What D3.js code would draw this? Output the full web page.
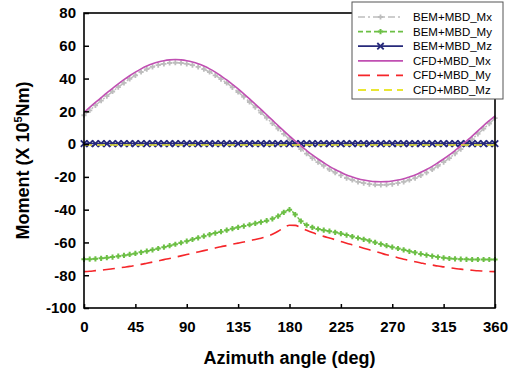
<!DOCTYPE html>
<html>
<head>
<meta charset="utf-8">
<script src="https://cdn.jsdelivr.net/npm/d3@7"></script>
<style>
body { margin: 0; background: #fff; }
svg { display: block; font-family: "Liberation Sans", Arial, sans-serif; }
</style>
</head>
<body>
<div id="chart"></div>
<script>
// azimuth angle (deg)
var angles = [0,5,10,15,20,25,30,35,40,45,50,55,60,65,70,75,80,85,90,95,
  100,105,110,115,120,125,130,135,140,145,150,155,160,165,170,175,180,185,190,195,
  200,205,210,215,220,225,230,235,240,245,250,255,260,265,270,275,280,285,290,295,
  300,305,310,315,320,325,330,335,340,345,350,355,360];

// moments, X 10^5 Nm
var bemMx = [17.6,20.6,23.6,26.5,29.3,32.1,34.8,37.4,39.8,42.0,
  44.0,45.7,47.1,48.2,49.0,49.5,49.7,49.5,49.0,48.2,
  47.1,45.7,44.0,42.0,39.7,37.3,34.6,31.8,28.8,25.7,
  22.5,19.3,16.0,12.7,9.4,6.2,3.0,0.0,-3.0,-5.8,
  -8.5,-11.0,-13.3,-15.5,-17.4,-19.1,-20.7,-21.9,-23.0,-23.8,
  -24.4,-24.8,-24.9,-24.8,-24.4,-23.8,-23.0,-21.9,-20.7,-19.1,
  -17.4,-15.5,-13.3,-11.0,-8.5,-5.8,-3.0,0.0,3.0,6.2,
  9.4,12.5,15.8];
var bemMy = [-70.3,-70.2,-70.0,-69.7,-69.3,-68.9,-68.4,-67.9,-67.3,-66.7,
  -66.0,-65.3,-64.5,-63.7,-62.9,-62.0,-61.1,-60.2,-59.2,-58.2,
  -57.2,-56.2,-55.2,-54.3,-53.4,-52.5,-51.6,-50.8,-50.0,-49.2,
  -48.4,-47.6,-46.7,-45.6,-44.0,-41.6,-40.0,-43.0,-47.0,-49.4,
  -50.8,-51.8,-52.5,-53.1,-53.8,-54.6,-55.5,-56.4,-57.3,-58.1,
  -59.0,-60.0,-61.0,-62.0,-62.9,-63.7,-64.5,-65.4,-66.2,-67.0,
  -67.7,-68.3,-68.9,-69.4,-69.8,-70.0,-70.2,-70.3,-70.4,-70.4,
  -70.4,-70.4,-70.4];
var bemMz = [0.3,0.3,0.3,0.3,0.3,0.3,0.3,0.3,0.3,0.3,
  0.3,0.3,0.3,0.3,0.3,0.3,0.3,0.3,0.3,0.3,
  0.3,0.3,0.3,0.3,0.3,0.3,0.3,0.3,0.3,0.3,
  0.3,0.3,0.3,0.3,0.3,0.3,0.3,0.3,0.3,0.3,
  0.3,0.3,0.3,0.3,0.3,0.3,0.3,0.3,0.3,0.3,
  0.3,0.3,0.3,0.3,0.3,0.3,0.3,0.3,0.3,0.3,
  0.3,0.3,0.3,0.3,0.3,0.3,0.3,0.3,0.3,0.3,
  0.3,0.3,0.3];
var cfdMx = [19.3,22.4,25.4,28.3,31.2,34.0,36.7,39.3,41.7,43.9,
  45.9,47.6,49.0,50.1,50.9,51.4,51.6,51.4,50.9,50.1,
  49.0,47.6,45.9,43.9,41.6,39.2,36.5,33.7,30.7,27.6,
  24.4,21.2,17.9,14.6,11.3,8.1,4.9,1.9,-1.1,-3.9,
  -6.6,-9.1,-11.4,-13.6,-15.5,-17.2,-18.8,-20.0,-21.1,-21.9,
  -22.5,-22.9,-23.0,-22.9,-22.5,-21.9,-21.1,-20.0,-18.8,-17.2,
  -15.5,-13.6,-11.4,-9.1,-6.6,-3.9,-1.1,1.9,4.9,8.1,
  11.3,14.3,17.2];
var cfdMy = [-77.8,-77.6,-77.2,-76.9,-76.5,-76.1,-75.6,-75.1,-74.6,-74.0,
  -73.4,-72.7,-72.0,-71.3,-70.5,-69.8,-69.0,-68.2,-67.4,-66.6,
  -65.8,-65.0,-64.2,-63.4,-62.6,-61.9,-61.1,-60.4,-59.7,-58.9,
  -58.2,-57.4,-56.4,-55.0,-53.2,-50.9,-49.5,-49.6,-51.0,-52.6,
  -54.0,-55.2,-56.3,-57.3,-58.3,-59.4,-60.5,-61.5,-62.5,-63.5,
  -64.5,-65.5,-66.5,-67.5,-68.4,-69.3,-70.2,-71.0,-71.8,-72.5,
  -73.2,-73.8,-74.4,-74.9,-75.4,-75.9,-76.3,-76.7,-77.0,-77.3,
  -77.5,-77.7,-77.8];
var cfdMz = [-0.5,-0.5,-0.5,-0.5,-0.5,-0.5,-0.5,-0.5,-0.5,-0.5,
  -0.5,-0.5,-0.5,-0.5,-0.5,-0.5,-0.5,-0.5,-0.5,-0.5,
  -0.5,-0.5,-0.5,-0.5,-0.5,-0.5,-0.5,-0.5,-0.5,-0.5,
  -0.5,-0.5,-0.5,-0.5,-0.5,-0.5,-0.5,-0.5,-0.5,-0.5,
  -0.5,-0.5,-0.5,-0.5,-0.5,-0.5,-0.5,-0.5,-0.5,-0.5,
  -0.5,-0.5,-0.5,-0.5,-0.5,-0.5,-0.5,-0.5,-0.5,-0.5,
  -0.5,-0.5,-0.5,-0.5,-0.5,-0.5,-0.5,-0.5,-0.5,-0.5,
  -0.5,-0.5,-0.5];

var seriesNames = ["BEM+MBD_Mx","BEM+MBD_My","BEM+MBD_Mz","CFD+MBD_Mx","CFD+MBD_My","CFD+MBD_Mz"];
var xTicks = [0,45,90,135,180,225,270,315,360];
var yTicks = [-100,-80,-60,-40,-20,0,20,40,60,80];

function main() {

var margin = {top: 13, right: 21, bottom: 64, left: 84},
    width = 516 - margin.left - margin.right,
    height = 372 - margin.top - margin.bottom;

var svg = d3.select("#chart")
  .append("svg")
    .attr("width", width + margin.left + margin.right)
    .attr("height", height + margin.top + margin.bottom)
  .append("g")
    .attr("transform", "translate(" + margin.left + "," + margin.top + ")");

var x = d3.scaleLinear().domain([0, 360]).range([0, width]);
var y = d3.scaleLinear().domain([-100, 80]).range([height, 0]);

// marker shapes
var plus = function(s) { return "M" + (-s) + ",0H" + s + "M0," + (-s) + "V" + s; };
var cross = function(s) { return "M" + (-s) + "," + (-s) + "L" + s + "," + s + "M" + (-s) + "," + s + "L" + s + "," + (-s); };

var series = [
  {name: seriesNames[0], values: bemMx, color: "#bdbdbd", width: 1.5, dash: "7,3,2,3", marker: plus(2.6), mw: 1.8},
  {name: seriesNames[1], values: bemMy, color: "#6cbf45", width: 1.5, dash: "5,3", marker: plus(2.6), mw: 2},
  {name: seriesNames[2], values: bemMz, color: "#26297a", width: 1.5, dash: null, marker: cross(3.2), mw: 1.8},
  {name: seriesNames[3], values: cfdMx, color: "#c04fb2", width: 1.6, dash: null, marker: null},
  {name: seriesNames[4], values: cfdMy, color: "#f5262a", width: 1.6, dash: "12,7", marker: null},
  {name: seriesNames[5], values: cfdMz, color: "#e9e632", width: 1.6, dash: "8,5", marker: null}
];

var line = d3.line()
  .x(function(d) { return x(d[0]); })
  .y(function(d) { return y(d[1]); })
  .curve(d3.curveMonotoneX);

series.forEach(function(s) {
  var pts = angles.map(function(a, i) { return [a, s.values[i]]; });
  svg.append("path")
    .datum(pts)
    .attr("fill", "none")
    .attr("stroke", s.color)
    .attr("stroke-width", s.width)
    .attr("stroke-dasharray", s.dash)
    .attr("d", line);
  if (s.marker) {
    svg.selectAll()
      .data(pts)
      .enter()
      .append("path")
        .attr("transform", function(d) { return "translate(" + x(d[0]) + "," + y(d[1]) + ")"; })
        .attr("d", s.marker)
        .attr("stroke", s.color)
        .attr("stroke-width", s.mw)
        .attr("fill", "none");
  }
});

// axes (plain hyphen for negatives, like the original)
var fmt = function(d) { return String(d); };
var xAxis = svg.append("g")
  .attr("transform", "translate(0," + height + ")")
  .call(d3.axisBottom(x).tickValues(xTicks).tickFormat(fmt).tickSizeInner(-4).tickSizeOuter(0).tickPadding(13));
var yAxis = svg.append("g")
  .call(d3.axisLeft(y).tickValues(yTicks).tickFormat(fmt).tickSizeInner(-5).tickSizeOuter(0).tickPadding(8));

[xAxis, yAxis].forEach(function(g) {
  g.select(".domain").remove();
  g.selectAll(".tick line").attr("stroke", "#000").attr("stroke-width", 1.5);
  g.selectAll(".tick text")
    .attr("fill", "#000")
    .style("font-family", "'Liberation Sans', Arial, sans-serif")
    .style("font-size", "15px")
    .style("font-weight", "bold");
});

// frame
svg.append("rect")
  .attr("x", 0).attr("y", 0)
  .attr("width", width).attr("height", height)
  .attr("fill", "none")
  .attr("stroke", "#000")
  .attr("stroke-width", 1.6);

// axis titles
svg.append("text")
  .attr("x", width / 2)
  .attr("y", height + 56)
  .attr("text-anchor", "middle")
  .style("font-size", "18px")
  .style("font-weight", "bold")
  .text("Azimuth angle (deg)");

var yt = svg.append("text")
  .attr("transform", "translate(" + (-55) + "," + (height / 2) + ") rotate(-90)")
  .attr("text-anchor", "middle")
  .style("font-size", "18px")
  .style("font-weight", "bold");
yt.append("tspan").text("Moment (X 10");
yt.append("tspan").attr("dy", -7).style("font-size", "11px").text("5");
yt.append("tspan").attr("dy", 7).text("Nm)");

// legend
var lg = svg.append("g")
  .attr("transform", "translate(" + (352 - margin.left) + "," + (2 - margin.top) + ")");
lg.append("rect")
  .attr("width", 151).attr("height", 97)
  .attr("fill", "#fff")
  .attr("stroke", "#555")
  .attr("stroke-width", 1);
series.forEach(function(s, i) {
  var row = lg.append("g").attr("transform", "translate(0," + (15 + i * 14.6) + ")");
  row.append("line")
    .attr("x1", 6).attr("x2", 51)
    .attr("stroke", s.color)
    .attr("stroke-width", s.width + 0.2)
    .attr("stroke-dasharray", s.dash);
  if (s.marker) {
    row.append("path")
      .attr("transform", "translate(28.5,0)")
      .attr("d", s.marker)
      .attr("stroke", s.color)
      .attr("stroke-width", s.mw)
      .attr("fill", "none");
  }
  row.append("text")
    .attr("x", 61)
    .attr("dy", "0.35em")
    .style("font-size", "11.5px")
    .text(s.name);
});

}

document.addEventListener("DOMContentLoaded", main);
</script>
</body>
</html>
